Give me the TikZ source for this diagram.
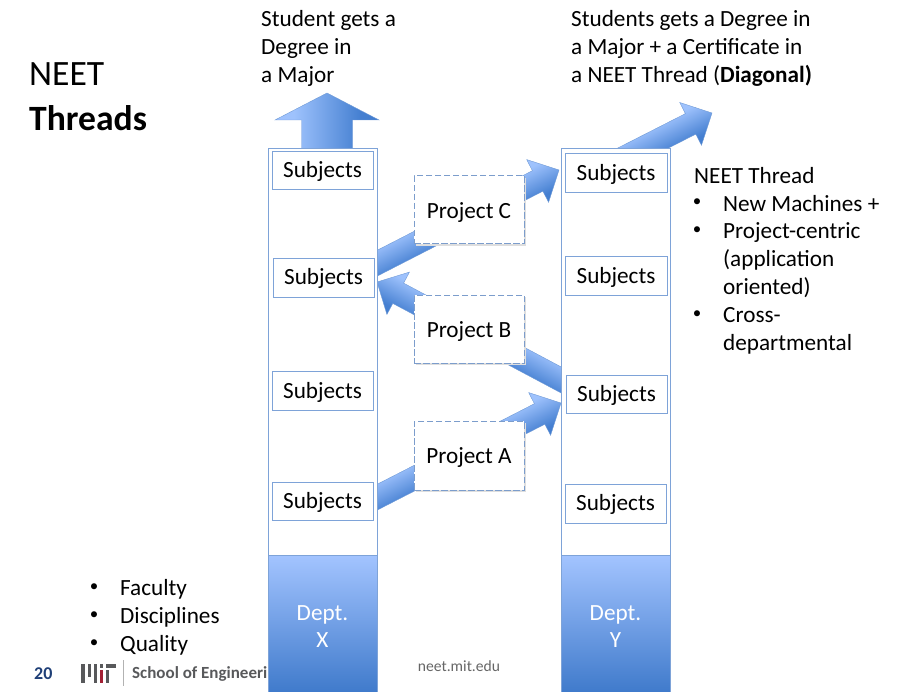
\documentclass[tikz,border=0pt]{standalone}
\usepackage{fontspec}
\setmainfont{Carlito}
\usetikzlibrary{shadows,calc}
\definecolor{colline}{HTML}{7EA3D8}
\definecolor{dashline}{HTML}{7C9DCC}
\definecolor{gradlight}{HTML}{A3C4FF}
\definecolor{graddark}{HTML}{3F7ACB}
\definecolor{arrowedge}{HTML}{6F9AD6}
\definecolor{footblue}{HTML}{1F3F77}
\definecolor{footgray}{HTML}{58595B}
\definecolor{mitred}{HTML}{A31F34}
\pgfdeclareverticalshading{arrowgrad}{100bp}{rgb(0bp)=(0.22,0.46,0.78);rgb(34bp)=(0.27,0.50,0.82);rgb(66bp)=(0.62,0.76,0.99);rgb(100bp)=(0.64,0.77,1)}
\pgfdeclareverticalshading{arrowgradrev}{100bp}{rgb(0bp)=(0.64,0.77,1);rgb(34bp)=(0.62,0.76,0.99);rgb(66bp)=(0.27,0.50,0.82);rgb(100bp)=(0.22,0.46,0.78)}
\newcommand{\blockarrow}[6]{%
  \path (#1); \pgfgetlastxy{\ax}{\ay}%
  \path (#2); \pgfgetlastxy{\bx}{\by}%
  \pgfmathsetmacro{\ang}{atan2(\by-\ay,\bx-\ax)}%
  \pgfmathsetmacro{\len}{veclen(\bx-\ax,\by-\ay)}%
  \pgfmathsetmacro{\neck}{\len-#5}%
  \begin{scope}[transform canvas={shift={(#1)},rotate=\ang}]
    \path[draw=arrowedge,line width=.4pt,shade,shading=#6]
      (0pt,#3/2*1pt) -- (\neck pt,#3/2*1pt) -- (\neck pt,#4/2*1pt) -- (\len pt,0pt)
      -- (\neck pt,-#4/2*1pt) -- (\neck pt,-#3/2*1pt) -- (0pt,-#3/2*1pt) -- cycle;
  \end{scope}}
\tikzset{
  txt/.style={inner sep=0pt,anchor=west,align=left,font=\fontsize{23.2}{28}\selectfont},
  bul/.style={inner sep=0pt,font=\fontsize{17}{20}\selectfont},
  subj/.style={draw=colline,fill=white,line width=.8pt,inner sep=0pt,text height=18pt,text depth=3.4pt,font=\fontsize{23.2}{25}\selectfont},
  subjlow/.style={subj,text height=19.5pt},
  proj/.style={draw=dashline,dash pattern=on 6.5pt off 2.5pt,fill=white,line width=1pt,inner sep=0pt,text height=19pt,text depth=3pt,font=\fontsize{23.2}{25}\selectfont,
    general shadow={shadow xshift=1.5pt,shadow yshift=-2pt,fill=black!13,draw=none,solid}},
  column/.style={draw=colline,fill=white,line width=.8pt},
  dept/.style={draw=colline,line width=.8pt,top color=gradlight,bottom color=graddark},
  depttxt/.style={inner sep=0pt,text=white,align=center,font=\fontsize{23.2}{27}\selectfont},
  mitbar/.style={fill=footgray,draw=none}
}
\begin{document}
\begin{tikzpicture}[x=1pt,y=-1pt]
\useasboundingbox (0,0) rectangle (909,692);
% title
\node[txt,font=\fontsize{35.6}{44}\selectfont] (neet) at (29,74) {NEET};
\node[txt,font=\fontsize{35.6}{44}\selectfont\bfseries] (threads) at (29,118) {Threads};
% top texts
\node[txt] (major) at (261,48) {Student gets a\\Degree in\\a Major};
\node[txt] (diag) at (571,48) {Students gets a Degree in\\a Major + a Certificate in\\a NEET Thread (\textbf{Diagonal)}};
% right list
\node[txt] (nt) at (694,176) {NEET Thread};
\node[bul] (b1) at (697,203) {•};
\node[txt] (t1) at (723,204) {New Machines +};
\node[bul] (b2) at (697,231) {•};
\node[txt] (t2) at (723,260) {Project-centric\\(application\\oriented)};
\node[bul] (b3) at (697,315) {•};
\node[txt] (t3) at (723,331) {Cross-\\departmental};
% left list
\node[bul] (b4) at (94,588) {•};
\node[txt] (t4) at (120,589) {Faculty};
\node[bul] (b5) at (94,616) {•};
\node[txt] (t5) at (120,617) {Disciplines};
\node[bul] (b6) at (94,644) {•};
\node[txt] (t6) at (120,645) {Quality};
% footer
\node[txt,text=footblue,font=\fontsize{18}{20}\selectfont\bfseries] (page) at (34,674) {20};
\fill[mitbar] (81,664) rectangle (84.5,683);
\fill[mitbar] (87.5,664) rectangle (91,677);
\fill[mitbar] (93.5,664) rectangle (97,683);
\fill[mitbar] (99.5,664) rectangle (103,667.5);
\fill[mitred] (99.5,670) rectangle (103,683);
\fill[mitbar] (105.5,670) rectangle (109,683);
\fill[mitbar] (105.5,664) rectangle (116,667.5);
\draw[black!30,line width=.8pt] (123.5,660) -- (123.5,686);
\node[txt,text=footgray,font=\fontsize{17}{20}\selectfont\bfseries] (school) at (132,674) {School of Engineeri};
\node[inner sep=0pt,text=black!60,font=\fontsize{15.6}{17}\selectfont] (web) at (459,666) {neet.mit.edu};
% anchors of the block arrows
\coordinate (upS) at (327,175);
\coordinate (upT) at (327,93);
\coordinate (dS) at (596,172);
\coordinate (dT) at (712,113);
\coordinate (cS) at (360,272);
\coordinate (cT) at (559,170);
\coordinate (bS) at (580,390);
\coordinate (bT) at (377,282);
\coordinate (aS) at (360,506);
\coordinate (aT) at (561,403);
\blockarrow{upS}{upT}{51}{104}{27}{arrowgrad}
\blockarrow{dS}{dT}{23}{48}{24}{arrowgrad}
\blockarrow{cS}{cT}{23}{48}{24}{arrowgrad}
\blockarrow{bS}{bT}{23}{48}{24}{arrowgradrev}
\blockarrow{aS}{aT}{23}{48}{24}{arrowgrad}
% columns
\node[column,minimum width=109pt,minimum height=407pt,inner sep=0pt] (colx) at (322.5,351.5) {};
\node[column,minimum width=109pt,minimum height=407pt,inner sep=0pt] (coly) at (615.5,351.5) {};
\node[dept,minimum width=109pt,minimum height=138pt,inner sep=0pt] (deptx) at (322.5,624) {};
\node[dept,minimum width=109pt,minimum height=138pt,inner sep=0pt] (depty) at (615.5,624) {};
\node[depttxt] (deptxt) at (322.5,627) {Dept.\\X};
\node[depttxt] (deptyt) at (615.5,627) {Dept.\\Y};
% subjects
\node[subj,minimum width=101pt,minimum height=38pt] (x1) at (322.5,170) {Subjects};
\node[subj,minimum width=101pt,minimum height=39pt] (x2) at (323.5,277.5) {Subjects};
\node[subj,minimum width=101pt,minimum height=39pt] (x3) at (322.5,391) {Subjects};
\node[subj,minimum width=101pt,minimum height=38pt] (x4) at (322.5,501) {Subjects};
\node[subjlow,minimum width=102pt,minimum height=39pt] (y1) at (616,172.5) {Subjects};
\node[subjlow,minimum width=102pt,minimum height=39pt] (y2) at (616,275.5) {Subjects};
\node[subj,minimum width=101pt,minimum height=38pt] (y3) at (616.5,394) {Subjects};
\node[subj,minimum width=101pt,minimum height=39pt] (y4) at (615.5,503.5) {Subjects};
% projects
\node[proj,text height=21pt,minimum width=110pt,minimum height=68pt] (pc) at (469,210) {Project C};
\node[proj,minimum width=110pt,minimum height=68pt] (pb) at (469,329) {Project B};
\node[proj,minimum width=110pt,minimum height=69pt] (pa) at (469,455.5) {Project A};
\end{tikzpicture}
\end{document}
